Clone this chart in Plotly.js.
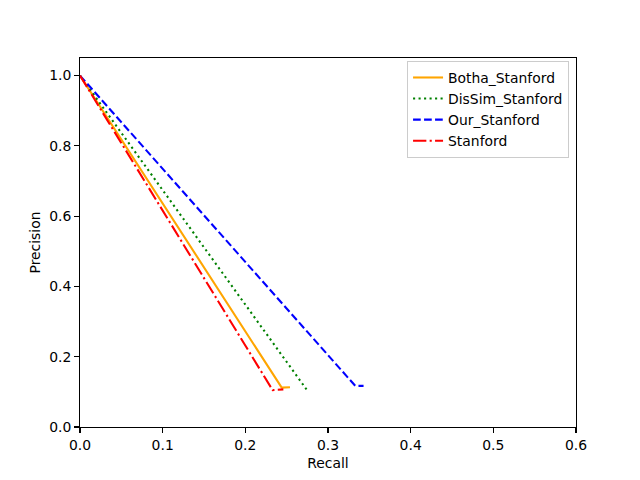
<!DOCTYPE html>
<html>
<head>
<meta charset="utf-8">
<script src="https://cdn.plot.ly/plotly-3.0.1.min.js"></script>
<style>html,body{margin:0;padding:0;background:#fff;}#chart{width:640px;height:480px;}</style>
</head>
<body>
<div id="chart"></div>
<script>
var seriesNames = ["Botha_Stanford", "DisSim_Stanford", "Our_Stanford", "Stanford"];
var bothaRecall = [0.0, 0.244, 0.254];
var bothaPrecision = [1.0, 0.112, 0.113];
var dissimRecall = [0.0, 0.274];
var dissimPrecision = [1.0, 0.107];
var ourRecall = [0.0, 0.333, 0.343];
var ourPrecision = [1.0, 0.117, 0.117];
var stanfordRecall = [0.0, 0.233, 0.246];
var stanfordPrecision = [1.0, 0.105, 0.107];

var lw = 2.08;
function tr(name, x, y, color, dash) {
  return {x: x, y: y, name: name, type: 'scatter', mode: 'lines',
    line: {color: color, width: lw, dash: dash}};
}
var data = [
  tr(seriesNames[0], bothaRecall, bothaPrecision, 'orange', 'solid'),
  tr(seriesNames[1], dissimRecall, dissimPrecision, 'green', '2.1px,3.4px'),
  tr(seriesNames[2], ourRecall, ourPrecision, 'blue', '7.7px,3.3px'),
  tr(seriesNames[3], stanfordRecall, stanfordPrecision, 'red', '13.3px,3.3px,2.1px,3.3px')
];
var axisCommon = {
  showgrid: false, zeroline: false, showline: true, mirror: true,
  linecolor: 'black', linewidth: 1.1, ticks: 'outside', ticklen: 4.9,
  tickwidth: 1.1, tickcolor: 'black',
  tickfont: {family: 'DejaVu Sans', size: 13.9, color: 'black'}
};
var layout = {
  width: 640, height: 480,
  margin: {l: 80, r: 64, t: 58, b: 53, pad: 0},
  paper_bgcolor: 'white', plot_bgcolor: 'white',
  font: {family: 'DejaVu Sans', size: 13.9, color: 'black'},
  xaxis: Object.assign({}, axisCommon, {range: [0, 0.6], dtick: 0.1, tick0: 0, tickformat: '.1f',
    title: {text: 'Recall', font: {family: 'DejaVu Sans', size: 13.9}, standoff: 6}}),
  yaxis: Object.assign({}, axisCommon, {range: [0, 1.05], dtick: 0.2, tick0: 0, tickformat: '.1f',
    title: {text: 'Precision', font: {family: 'DejaVu Sans', size: 13.9}, standoff: 5}}),
  legend: {x: 0.986, y: 0.992, xanchor: 'right', yanchor: 'top',
    bgcolor: 'rgba(255,255,255,0.8)', bordercolor: '#cccccc', borderwidth: 1,
    font: {family: 'DejaVu Sans', size: 13.9}, tracegroupgap: 0},
  showlegend: true
};
Plotly.newPlot('chart', data, layout, {staticPlot: true, displayModeBar: false});
</script>
</body>
</html>
